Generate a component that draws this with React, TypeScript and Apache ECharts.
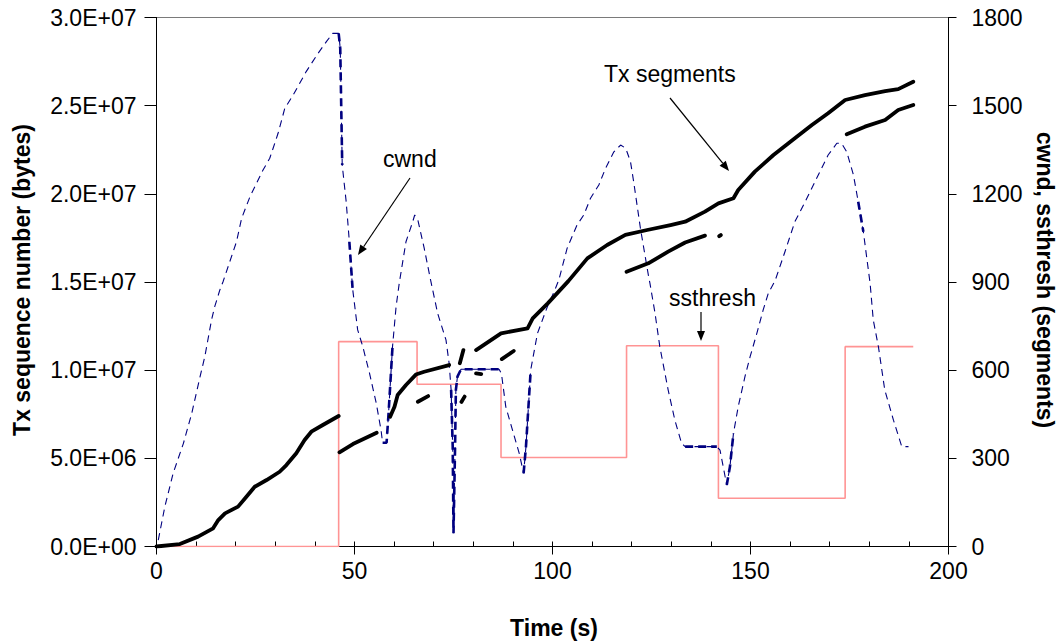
import React, { useEffect, useRef } from 'react';
import * as echarts from 'echarts';

const FONT = "'Liberation Sans', Arial, Helvetica, sans-serif";

// ---------- DATA ----------
// Time axis (s)
const xMin = 0;
const xMax = 200;
const xMajor = 50;
const xMinor = 10;
// Left axis (bytes)
const yLeftMax = 3e7;
const yLeftStep = 5e6;
// Right axis (segments)
const yRightMax = 1800;
const yRightStep = 300;

// Tx segments (main trace): time (s), sequence number (millions of bytes); null = gap
const txTime = [0, 5.9, 10.5, 14.3, 15.6, 17.3, 20.6, 22.7, 24.8, 27.8, 31.1, 32.8, 35.3, 37.4, 39.1, 42, 46,
  null,
  59, 60.1, 60.9, 63, 65.5, 67.6, 73.9,
  null,
  76.6, 77.5,
  null,
  80.7, 87, 93.7, 95.0, 98.8, 104, 108.8, 113.8, 118.4, 123.9, 129.8, 133.5, 138.5, 141.9, 145.7, 146.9,
  151.1, 155.8, 161.2, 165.5, 169.6, 173.9, 178.9, 184, 187.3, 191.1];
const txSeqM = [0, 0.14, 0.56, 1.03, 1.5, 1.88, 2.26, 2.82, 3.39, 3.77, 4.24, 4.62, 5.29, 6.04, 6.51, 6.89, 7.4,
  null,
  7.36, 7.93, 8.59, 9.16, 9.75, 9.91, 10.29,
  null,
  10.39, 11.14,
  null,
  11.14, 12.09, 12.37, 12.94, 13.79, 15.05, 16.34, 17.1, 17.67, 17.95, 18.23, 18.42, 18.99, 19.46, 19.75, 20.22,
  21.26, 22.2, 23.15, 23.9, 24.57, 25.32, 25.6, 25.83, 25.94, 26.36];

// Tx segments (retransmitted / lower branches)
const txReTime = [46.2, 49.6, 55.6,
  null, 66.0, 68.6,
  null, 77.0, 77.8,
  null, 80.7, 82,
  null, 87.2, 90.2,
  null, 118.7, 124.2, 129.2, 133.5, 138.5,
  null, 142.1, 142.5,
  null, 174.3, 178.9, 184, 187.3, 191.1];
const txReSeqM = [5.34, 5.81, 6.45,
  null, 8.21, 8.53,
  null, 8.2, 8.5,
  null, 9.82, 9.78,
  null, 10.63, 11.09,
  null, 15.58, 16.06, 16.72, 17.24, 17.63,
  null, 17.6, 17.66,
  null, 23.38, 23.81, 24.19, 24.75, 25.04];

// cwnd (segments)
const cwndTime = [0.45, 2.1, 4.2, 6.8, 8.9, 11, 12.2, 13.9, 14.7, 16, 16.8, 20.2, 21.5, 23.6, 26.9, 28.6, 30.7, 32.4,
  34.5, 37.8, 40.8, 42.9, 44.5, 46.0, 46.4, 46.9, 47.9, 48.7, 49.5, 50.8, 52.1, 53.8, 55.5, 56.7, 57.1, 58.1,
  58.6, 59.6, 60.5, 61.3, 63.0, 64.7, 65.2, 66, 67.6, 69.3, 71, 73.1, 73.9, 74.4, 74.8, 75.0, 75.4, 75.6, 76,
  76.9, 86.5, 87.1, 88.2, 89.9, 91.6, 92.7, 93.3, 94.5, 96.2, 98.7, 100.6, 101.6, 103.7, 106.2, 107.9, 109.6,
  111.7, 113.4, 115.5, 117.2, 118.5, 119.7, 120.5, 122.2, 124.2, 124.6, 125.9, 127.1, 129.2, 130.9, 132.6,
  133.5, 141.5, 142.3, 144, 144.8, 145.7, 146.9, 148.6, 149.9, 151.6, 153.2, 154.5, 156.2, 158.7, 161.2,
  163.8, 166.7, 169.6, 171.8, 173, 174.3, 176, 177.2, 178.5, 179.7, 180.2, 181, 182.3, 183.9, 186.1, 188.2, 189.9];
const cwndSeg = [22, 135, 249, 351, 453, 578, 646, 771, 816, 873, 901, 1037, 1117, 1190, 1281, 1321, 1406, 1491,
  1536, 1616, 1678, 1718, 1746, 1746, 1695, 1298, 1173, 1037, 880, 737, 680, 589, 487, 396, 353, 353,
  453, 680, 816, 896, 1037, 1105, 1128, 1111, 1015, 901, 793, 703, 623, 533, 340, 45, 340, 533, 578,
  603, 603, 589, 476, 396, 317, 249, 340, 601, 725, 816, 873, 907, 1015, 1094, 1128, 1185,
  1230, 1287, 1343, 1366, 1355, 1309, 1241, 1083, 924, 896, 793, 680, 533, 430, 351,
  340, 340, 328, 209, 271, 385, 476, 578, 646, 725, 805, 862, 904, 1003, 1105,
  1173, 1253, 1332, 1372, 1372, 1343, 1264, 1173, 1071, 947, 896, 771, 680, 533, 430, 340, 340];
// points drawn with a denser (bolder) dash in the original
const cwndBold = [0, 0, 0, 0, 0, 0, 0, 0, 0, 0, 0, 0, 0, 0, 0, 0, 0, 0,
  0, 0, 0, 0, 0, 1, 1, 1, 0, 1, 1, 0, 0, 0, 0, 0, 1, 1,
  1, 1, 0, 0, 0, 0, 0, 0, 0, 0, 0, 0, 0, 1, 1, 1, 1, 1, 1,
  1, 1, 0, 0, 0, 0, 1, 1, 1, 0, 0, 0, 0, 0, 0, 0, 0,
  0, 0, 0, 0, 0, 0, 0, 0, 0, 0, 0, 0, 0, 0, 0,
  1, 1, 0, 1, 1, 1, 0, 0, 0, 0, 0, 0, 0, 0, 0,
  0, 0, 0, 0, 0, 0, 0, 1, 1, 0, 0, 0, 0, 0, 0, 0, 0];

// ssthresh (segments): value from each time until the next
const ssthTime = [0, 46.0, 65.8, 87.0, 118.7, 141.9, 173.9, 191.1];
const ssthSeg = [0, 697, 552, 303, 683, 164, 680, 680];

// ---------- helpers ----------
const pairs = (ts: (number | null)[], vs: (number | null)[], k = 1) =>
  ts.map((t, i) => (t === null || vs[i] === null ? ['-', '-'] : [t, (vs[i] as number) * k]));

const sci = (v: number) => {
  if (v === 0) return '0.0E+00';
  const e = Math.floor(Math.log10(v) + 1e-9);
  const m = v / Math.pow(10, e);
  return m.toFixed(1) + 'E+' + String(e).padStart(2, '0');
};

const arrow = (x1: number, y1: number, x2: number, y2: number) => {
  const ang = Math.atan2(y2 - y1, x2 - x1);
  const L = 10, W = 4;
  const bx = x2 - L * Math.cos(ang), by = y2 - L * Math.sin(ang);
  const px = -Math.sin(ang) * W, py = Math.cos(ang) * W;
  return [
    { type: 'line', shape: { x1, y1, x2: bx, y2: by }, style: { stroke: '#000', lineWidth: 1.2 } },
    { type: 'polygon', shape: { points: [[x2, y2], [bx + px, by + py], [bx - px, by - py]] }, style: { fill: '#000' } },
  ];
};

const label = (text: string, x: number, y: number) => ({
  type: 'text', x, y,
  style: { text, fill: '#000', font: `23px ${FONT}`, align: 'left', verticalAlign: 'middle' },
});

export default function App() {
  const ref = useRef<HTMLDivElement>(null);
  useEffect(() => {
    const chart = echarts.init(ref.current!, null, { renderer: 'svg' });
    const black = { color: '#000', width: 1 };
    const boldData = cwndTime.map((t, i) => (cwndBold[i] ? [t, cwndSeg[i]] : ['-', '-']));
    chart.setOption({
      animation: false,
      backgroundColor: '#fff',
      grid: { left: 156.5, right: 112.5, top: 17.5, bottom: 97.5, show: true, borderColor: '#7a7a7a', borderWidth: 1 },
      xAxis: [
        {
          type: 'value', min: xMin, max: xMax, interval: xMajor, position: 'bottom',
          axisLine: { show: true, onZero: false, lineStyle: black },
          axisTick: { show: true, inside: false, length: 8, lineStyle: black },
          axisLabel: { fontSize: 23, color: '#000', fontFamily: FONT, margin: 13, formatter: (v: number) => String(v) },
          splitLine: { show: false },
        },
        {
          type: 'value', min: xMin, max: xMax, interval: xMinor, position: 'bottom',
          axisLine: { show: false },
          axisTick: { show: true, inside: true, length: 5, lineStyle: black },
          axisLabel: { show: false },
          splitLine: { show: false },
        },
      ],
      yAxis: [
        {
          type: 'value', min: 0, max: yLeftMax, interval: yLeftStep, position: 'left',
          axisLine: { show: true, onZero: false, lineStyle: black },
          axisTick: { show: true, inside: false, length: 12, lineStyle: black },
          axisLabel: { fontSize: 23, color: '#000', fontFamily: FONT, margin: 20, formatter: sci },
          splitLine: { show: false },
        },
        {
          type: 'value', min: 0, max: yRightMax, interval: yRightStep, position: 'right',
          axisLine: { show: true, onZero: false, lineStyle: black },
          axisTick: { show: true, inside: false, length: 8, lineStyle: black },
          axisLabel: { fontSize: 23, color: '#000', fontFamily: FONT, margin: 23, formatter: (v: number) => String(v) },
          splitLine: { show: false },
        },
        {
          type: 'value', min: 0, max: yRightMax, interval: yRightStep, position: 'right',
          axisLine: { show: false },
          axisTick: { show: true, inside: true, length: 8, lineStyle: black },
          axisLabel: { show: false },
          splitLine: { show: false },
        },
      ],
      series: [
        {
          name: 'ssthresh', type: 'line', xAxisIndex: 0, yAxisIndex: 1, step: 'end', symbol: 'none',
          data: pairs(ssthTime, ssthSeg), lineStyle: { color: '#ff9494', width: 1.6 }, z: 3,
        },
        {
          name: 'cwnd', type: 'line', xAxisIndex: 0, yAxisIndex: 1, symbol: 'none',
          data: pairs(cwndTime, cwndSeg), lineStyle: { color: '#000080', width: 1.1, type: [7, 5] }, z: 4,
        },
        {
          name: 'cwnd-bold', type: 'line', xAxisIndex: 0, yAxisIndex: 1, symbol: 'none', connectNulls: false,
          data: boldData, lineStyle: { color: '#000080', width: 2.6, type: [8, 5] }, z: 4,
        },
        {
          name: 'Tx segments', type: 'line', xAxisIndex: 0, yAxisIndex: 0, symbol: 'none', connectNulls: false,
          data: pairs(txTime, txSeqM, 1e6), lineStyle: { color: '#000', width: 3.8, cap: 'round', join: 'round' }, z: 5,
        },
        {
          name: 'Tx retransmitted', type: 'line', xAxisIndex: 0, yAxisIndex: 0, symbol: 'none', connectNulls: false,
          data: pairs(txReTime, txReSeqM, 1e6), lineStyle: { color: '#000', width: 3.8, cap: 'round', join: 'round' }, z: 5,
        },
      ],
      graphic: [
        { type: 'text', x: 22, y: 280, rotation: Math.PI / 2,
          style: { text: 'Tx sequence number (bytes)', fill: '#000', font: `bold 23px ${FONT}`, align: 'center', verticalAlign: 'middle' } },
        { type: 'text', x: 1045, y: 280, rotation: -Math.PI / 2,
          style: { text: 'cwnd, ssthresh (segments)', fill: '#000', font: `bold 23px ${FONT}`, align: 'center', verticalAlign: 'middle' } },
        { type: 'text', x: 554, y: 628,
          style: { text: 'Time (s)', fill: '#000', font: `bold 23px ${FONT}`, align: 'center', verticalAlign: 'middle' } },
        label('cwnd', 383, 159),
        label('Tx segments', 604, 74),
        label('ssthresh', 669, 298),
        ...arrow(410, 178, 358, 255),
        ...arrow(670, 98, 729, 171),
        ...arrow(701, 312, 701, 341),
      ],
    });
    return () => chart.dispose();
  }, []);
  return <div ref={ref} style={{ position: 'absolute', left: 0, top: 0, width: 1061, height: 644 }} />;
}
